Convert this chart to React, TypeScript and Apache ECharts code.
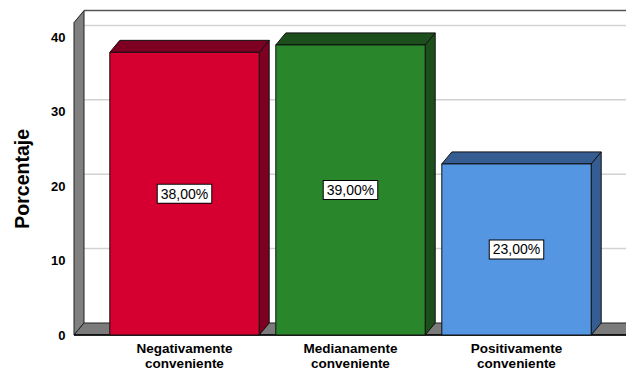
import React, { useEffect, useRef } from "react";
import * as echarts from "echarts";

const categories = ["Negativamente\nconveniente", "Medianamente\nconveniente", "Positivamente\nconveniente"];
const percentages = [38, 39, 23];
const yTicks = [10, 20, 30, 40];
const yAxisTitle = "Porcentaje";

const FONT = '"Liberation Sans", Arial, sans-serif';
const FRONT = ["#d5002f", "#2a862a", "#5596e3"];
const DARK = ["#7d0022", "#1c4f1c", "#365d91"];
const DX = 10;
const DY = -12;

export default function App() {
  const ref = useRef<HTMLDivElement>(null);
  useEffect(() => {
    if (!ref.current) return;
    const chart = echarts.init(ref.current, null, { renderer: "svg" });
    const option: any = {
      animation: false,
      backgroundColor: "#ffffff",
      grid: { left: 101.5, right: 26.5, top: 22.6, bottom: 37, containLabel: false },
      xAxis: {
        type: "category",
        data: categories,
        axisLine: { show: false },
        axisTick: { show: false },
        axisLabel: {
          margin: 6,
          fontFamily: FONT,
          fontWeight: "bold",
          fontSize: 13.5,
          lineHeight: 15,
          color: "#000",
          interval: 0,
        },
      },
      yAxis: {
        type: "value",
        min: 0,
        max: 42,
        interval: 10,
        name: yAxisTitle,
        nameLocation: "middle",
        nameGap: 70,
        nameTextStyle: { fontFamily: FONT, fontWeight: "bold", fontSize: 19.5, color: "#000" },
        axisLine: { show: false },
        axisTick: { show: false },
        splitLine: { show: false },
        axisLabel: {
          showMaxLabel: false,
          margin: 36,
          fontFamily: FONT,
          fontWeight: "bold",
          fontSize: 13,
          color: "#000",
        },
      },
      series: [
        {
          type: "custom",
          silent: true,
          z: 1,
          data: [[0, 0]],
          encode: { x: 0, y: 1 },
          renderItem: (params: any, api: any) => {
            const cs = params.coordSys;
            const W = api.getWidth();
            const y0 = api.coord([0, 0])[1];
            const yTop = cs.y;
            const fl = cs.x - 27.5;
            const bl = fl + DX;
            const children: any[] = [];
            for (const v of yTicks) {
              const y = api.coord([0, v])[1] + DY;
              children.push({
                type: "line",
                shape: { x1: bl, y1: y, x2: W, y2: y },
                style: { stroke: "#d2d2d2", lineWidth: 1.5 },
              });
            }
            children.push({
              type: "line",
              shape: { x1: bl, y1: yTop + DY, x2: W, y2: yTop + DY },
              style: { stroke: "#555555", lineWidth: 1.5 },
            });
            children.push({
              type: "polygon",
              shape: { points: [[fl, y0], [fl, yTop], [bl, yTop + DY], [bl, y0 + DY]] },
              style: { fill: "#808080", stroke: "#222222", lineWidth: 1 },
            });
            children.push({
              type: "polygon",
              shape: { points: [[fl, y0], [bl, y0 + DY], [W + 2, y0 + DY], [W + 2, y0]] },
              style: { fill: "#7b7b7b", stroke: "#222222", lineWidth: 1 },
            });
            children.push({
              type: "line",
              shape: { x1: fl, y1: y0, x2: W, y2: y0 },
              style: { stroke: "#000000", lineWidth: 1.5 },
            });
            return { type: "group", children };
          },
        },
        {
          type: "custom",
          z: 2,
          data: percentages.map((v, i) => [i, v]),
          encode: { x: 0, y: 1 },
          renderItem: (params: any, api: any) => {
            const i = api.value(0);
            const v = api.value(1);
            const [cx, yv] = api.coord([i, v]);
            const y0 = api.coord([i, 0])[1];
            const w = api.size([1, 0])[0] * 0.9;
            const x0 = cx - w / 2;
            const x1 = cx + w / 2;
            const idx = params.dataIndex;
            const label = v.toFixed(2).replace(".", ",") + "%";
            return {
              type: "group",
              children: [
                {
                  type: "polygon",
                  shape: { points: [[x1, yv], [x1 + DX, yv + DY], [x1 + DX, y0 + DY], [x1, y0]] },
                  style: { fill: DARK[idx], stroke: "#111111", lineWidth: 1 },
                },
                {
                  type: "polygon",
                  shape: { points: [[x0, yv], [x0 + DX, yv + DY], [x1 + DX, yv + DY], [x1, yv]] },
                  style: { fill: DARK[idx], stroke: "#111111", lineWidth: 1 },
                },
                {
                  type: "rect",
                  shape: { x: x0, y: yv, width: w, height: y0 - yv },
                  style: { fill: FRONT[idx], stroke: "#111111", lineWidth: 1 },
                },
                {
                  type: "text",
                  x: cx,
                  y: (yv + y0) / 2,
                  style: {
                    text: label,
                    align: "center",
                    verticalAlign: "middle",
                    fill: "#000000",
                    fontFamily: FONT,
                    fontSize: 14,
                    backgroundColor: "#ffffff",
                    borderColor: "#000000",
                    borderWidth: 1,
                    padding: [2, 3, 2, 3],
                  },
                },
              ],
            };
          },
        },
      ],
    };
    chart.setOption(option);
    return () => chart.dispose();
  }, []);
  return (
    <div
      ref={ref}
      style={{ position: "fixed", left: 0, top: 0, width: 626, height: 372, background: "#fff" }}
    />
  );
}
